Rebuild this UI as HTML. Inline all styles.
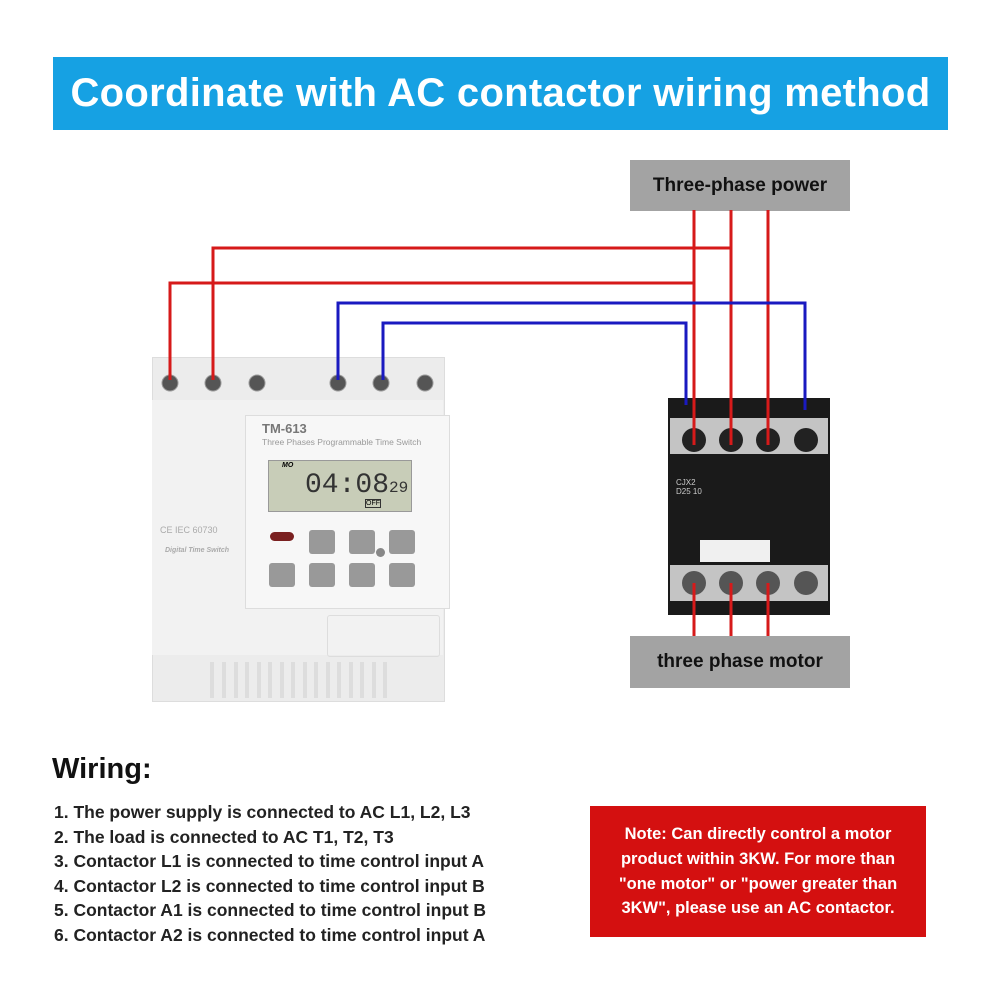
<!DOCTYPE html>
<html><head><style>
body{margin:0;width:1000px;height:1000px;background:#fff;position:relative;overflow:hidden;font-family:"Liberation Sans",sans-serif}
.a{position:absolute}
.t{font-weight:bold}
</style></head><body>
<div class="a" style="left:53px;top:57px;width:895px;height:73px;background:#16a1e3;color:#fff;font-size:40px;font-weight:bold;text-align:center;line-height:73px;letter-spacing:0.3px">Coordinate with AC contactor wiring method</div>
<div class="a t" style="left:630px;top:160px;width:220px;height:51px;background:#a3a3a3;font-size:19px;text-align:center;line-height:51px;color:#111">Three-phase power</div>
<div class="a t" style="left:630px;top:636px;width:220px;height:52px;background:#a3a3a3;font-size:19px;text-align:center;line-height:52px;color:#111">three phase motor</div>

<!-- device -->
<div class="a" style="left:152px;top:357px;width:291px;height:343px;background:#ececec;border:1px solid #ddd"></div>
<div class="a" style="left:152px;top:400px;width:291px;height:255px;background:#f2f2f2"></div>
<div class="a" style="left:245px;top:415px;width:203px;height:192px;background:#f7f7f7;border:1px solid #ddd"></div>
<div class="a" style="left:262px;top:421px;font-size:13px;color:#777;font-weight:bold">TM-613</div>
<div class="a" style="left:262px;top:437px;font-size:8.5px;color:#999">Three Phases Programmable Time Switch</div>
<div class="a" style="left:268px;top:460px;width:142px;height:50px;background:#c8cdb8;border:1px solid #999"></div>
<div class="a" style="left:282px;top:462px;font-size:7px;font-style:italic;font-weight:bold">MO</div>
<div class="a" style="left:305px;top:470px;font-size:28px;font-family:'Liberation Mono',monospace;color:#333">04:08<span style="font-size:16px">29</span></div>
<div class="a" style="left:365px;top:499px;font-size:7px;border:1px solid #333;line-height:7px">OFF</div>
<div class="a" style="left:270px;top:532px;width:24px;height:9px;background:#7a2020;border-radius:5px"></div>
<div class="a" style="left:309px;top:530px;width:26px;height:24px;background:#999;border-radius:3px"></div>
<div class="a" style="left:349px;top:530px;width:26px;height:24px;background:#999;border-radius:3px"></div>
<div class="a" style="left:389px;top:530px;width:26px;height:24px;background:#999;border-radius:3px"></div>
<div class="a" style="left:269px;top:563px;width:26px;height:24px;background:#999;border-radius:3px"></div>
<div class="a" style="left:309px;top:563px;width:26px;height:24px;background:#999;border-radius:3px"></div>
<div class="a" style="left:349px;top:563px;width:26px;height:24px;background:#999;border-radius:3px"></div>
<div class="a" style="left:389px;top:563px;width:26px;height:24px;background:#999;border-radius:3px"></div>
<div class="a" style="left:376px;top:548px;width:9px;height:9px;background:#888;border-radius:50%"></div>
<div class="a" style="left:160px;top:525px;font-size:9px;color:#aaa">CE IEC 60730</div>
<div class="a" style="left:165px;top:547px;font-size:7px;color:#aaa;font-style:italic;font-weight:bold">Digital Time Switch</div>
<div class="a" style="left:327px;top:615px;width:111px;height:40px;border:1px solid #ddd;border-radius:3px"></div>
<svg class="a" style="left:0;top:0" width="1000" height="1000">
<g fill="#ddd"><rect x="210" y="662" width="4" height="36"/><rect x="222" y="662" width="4" height="36"/><rect x="234" y="662" width="4" height="36"/><rect x="245" y="662" width="4" height="36"/><rect x="257" y="662" width="4" height="36"/><rect x="268" y="662" width="4" height="36"/><rect x="280" y="662" width="4" height="36"/><rect x="291" y="662" width="4" height="36"/><rect x="303" y="662" width="4" height="36"/><rect x="314" y="662" width="4" height="36"/><rect x="326" y="662" width="4" height="36"/><rect x="337" y="662" width="4" height="36"/><rect x="349" y="662" width="4" height="36"/><rect x="360" y="662" width="4" height="36"/><rect x="372" y="662" width="4" height="36"/><rect x="383" y="662" width="4" height="36"/></g>
<!-- contactor -->
<rect x="668" y="398" width="162" height="217" fill="#1a1a1a"/>
<rect x="670" y="418" width="158" height="36" fill="#c4c4c4"/>
<rect x="670" y="565" width="158" height="36" fill="#c4c4c4"/>
<rect x="700" y="540" width="70" height="22" fill="#f0f0f0"/>
<g fill="#222"><circle cx="694" cy="440" r="12"/><circle cx="731" cy="440" r="12"/><circle cx="768" cy="440" r="12"/><circle cx="806" cy="440" r="12"/>
<circle cx="694" cy="583" r="12" fill="#555"/><circle cx="731" cy="583" r="12" fill="#555"/><circle cx="768" cy="583" r="12" fill="#555"/><circle cx="806" cy="583" r="12" fill="#555"/></g>
<text x="676" y="485" font-size="8" fill="#ccc" font-family="Liberation Sans">CJX2</text>
<text x="676" y="494" font-size="8" fill="#ccc" font-family="Liberation Sans">D25 10</text>
<!-- screws -->
<g fill="#555" stroke="#999"><circle cx="170" cy="383" r="8"/><circle cx="213" cy="383" r="8"/><circle cx="257" cy="383" r="8"/><circle cx="338" cy="383" r="8"/><circle cx="381" cy="383" r="8"/><circle cx="425" cy="383" r="8"/></g>
<!-- wires -->
<g fill="none" stroke="#d61a1a" stroke-width="3">
<polyline points="170,380 170,283 694,283"/>
<polyline points="213,380 213,248 731,248"/>
<line x1="694" y1="210" x2="694" y2="445"/>
<line x1="731" y1="210" x2="731" y2="445"/>
<line x1="768" y1="210" x2="768" y2="445"/>
<line x1="694" y1="583" x2="694" y2="636"/>
<line x1="731" y1="583" x2="731" y2="636"/>
<line x1="768" y1="583" x2="768" y2="636"/>
</g>
<g fill="none" stroke="#1a1ac0" stroke-width="3">
<polyline points="338,380 338,303 805,303 805,410"/>
<polyline points="383,380 383,323 686,323 686,405"/>
</g>
</svg>

<div class="a t" style="left:52px;top:753px;font-size:29px;color:#111">Wiring:</div>
<div class="a" style="left:54px;top:800px;font-size:17.5px;line-height:24.6px;color:#222;font-weight:bold;white-space:nowrap">
1. The power supply is connected to AC L1, L2, L3<br>
2. The load is connected to AC T1, T2, T3<br>
3. Contactor L1 is connected to time control input A<br>
4. Contactor L2 is connected to time control input B<br>
5. Contactor A1 is connected to time control input B<br>
6. Contactor A2 is connected to time control input A</div>
<div class="a t" style="left:590px;top:806px;width:336px;height:131px;background:#d41010;color:#fff;font-size:16.5px;line-height:24.8px;box-sizing:border-box;padding:16px 0 0 0;text-align:center;white-space:nowrap">Note: Can directly control a motor<br>product within 3KW. For more than<br>"one motor" or "power greater than<br>3KW", please use an AC contactor.</div>
</body></html>
